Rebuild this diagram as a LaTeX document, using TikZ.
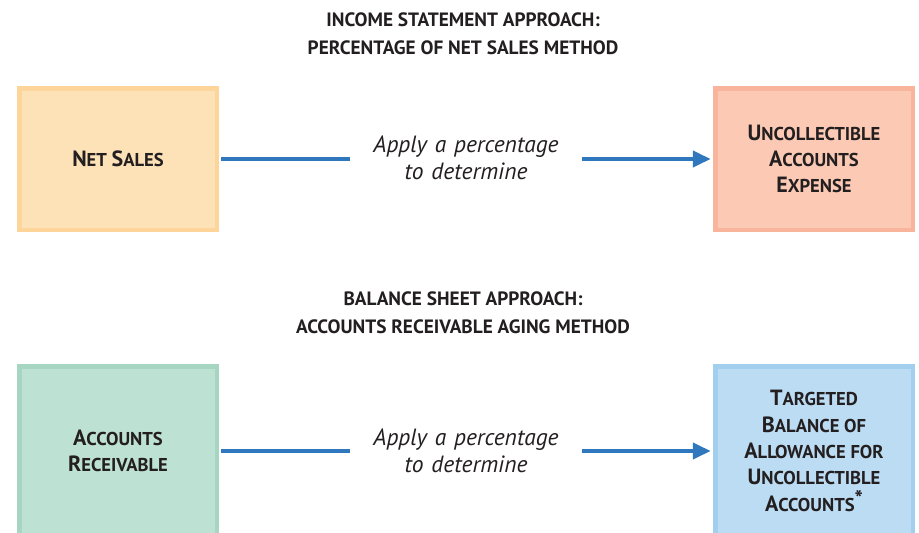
\documentclass[tikz,border=0pt]{standalone}
\usepackage{fontspec}
\setmainfont{PT Sans}
\usetikzlibrary{arrows.meta}
\definecolor{txt}{HTML}{231F20}
\definecolor{arr}{HTML}{3078BE}
\definecolor{fA}{HTML}{FDE1B7}\definecolor{bA}{HTML}{FDD59B}
\definecolor{fB}{HTML}{FBC9B4}\definecolor{bB}{HTML}{F9B59B}
\definecolor{fC}{HTML}{BDE1D2}\definecolor{bC}{HTML}{A6D6C2}
\definecolor{fD}{HTML}{BCDCF3}\definecolor{bD}{HTML}{A3CFEE}
\newcommand\SCx[2]{{\fontsize{22}{26.4}\selectfont #1}{\fontsize{18.6}{26.4}\selectfont #2}}
\tikzset{
  box/.style={draw, line width=4.5pt, minimum width=197.5pt, inner sep=0pt, align=center,
    text=txt, font=\bfseries\fontsize{18.6}{26.4}\selectfont},
  topbox/.style={box, minimum height=141.5pt},
  botbox/.style={box, minimum height=169.5pt},
  ttl/.style={align=center, text=txt, font=\bfseries\fontsize{19.3}{28}\selectfont},
  lbl/.style={align=center, text=txt, inner sep=0pt, minimum width=228pt, text width=228pt,
    font=\itshape\fontsize{23.5}{27}\selectfont},
  conn/.style={draw=arr, line width=4pt, shorten <=2.25pt, shorten >=2.25pt},
  arrowtip/.style={-{Triangle[length=18pt,width=16pt]}}
}
\begin{document}
\begin{tikzpicture}[x=1pt,y=-1pt]
\useasboundingbox (0,0) rectangle (919,533);
\begin{scope}
\clip (0,0) rectangle (919,533);
\node[ttl] (t1) at (463,34) {INCOME STATEMENT APPROACH:\\PERCENTAGE OF NET SALES METHOD};
\node[ttl] (t2) at (463,312.5) {BALANCE SHEET APPROACH:\\ACCOUNTS RECEIVABLE AGING METHOD};
\node[topbox, fill=fA, draw=bA] (ns) at (118,159) {\SCx{N}{ET} \SCx{S}{ALES}};
\node[topbox, fill=fB, draw=bB] (ue) at (814,159) {\SCx{U}{NCOLLECTIBLE}\\\SCx{A}{CCOUNTS}\\\SCx{E}{XPENSE}};
\node[botbox, fill=fC, draw=bC] (ar) at (118,451) {\SCx{A}{CCOUNTS}\\\SCx{R}{ECEIVABLE}};
\node[botbox, fill=fD, draw=bD] (tb) at (814,451) {\SCx{T}{ARGETED}\\\SCx{B}{ALANCE OF}\\\SCx{A}{LLOWANCE FOR}\\\SCx{U}{NCOLLECTIBLE}\\\SCx{A}{CCOUNTS}\raisebox{5pt}{\fontsize{22}{22}\selectfont *}};
\node[lbl] (l1) at (466,157.5) {Apply a percentage\\to determine};
\node[lbl] (l2) at (466,450.5) {Apply a percentage\\to determine};
\draw[conn] (ns.east) -- (ns.east -| l1.west);
\draw[conn, arrowtip] (ue.west -| l1.east) -- (ue.west);
\draw[conn] (ar.east) -- (ar.east -| l2.west);
\draw[conn, arrowtip] (tb.west -| l2.east) -- (tb.west);
\end{scope}
\end{tikzpicture}
\end{document}
